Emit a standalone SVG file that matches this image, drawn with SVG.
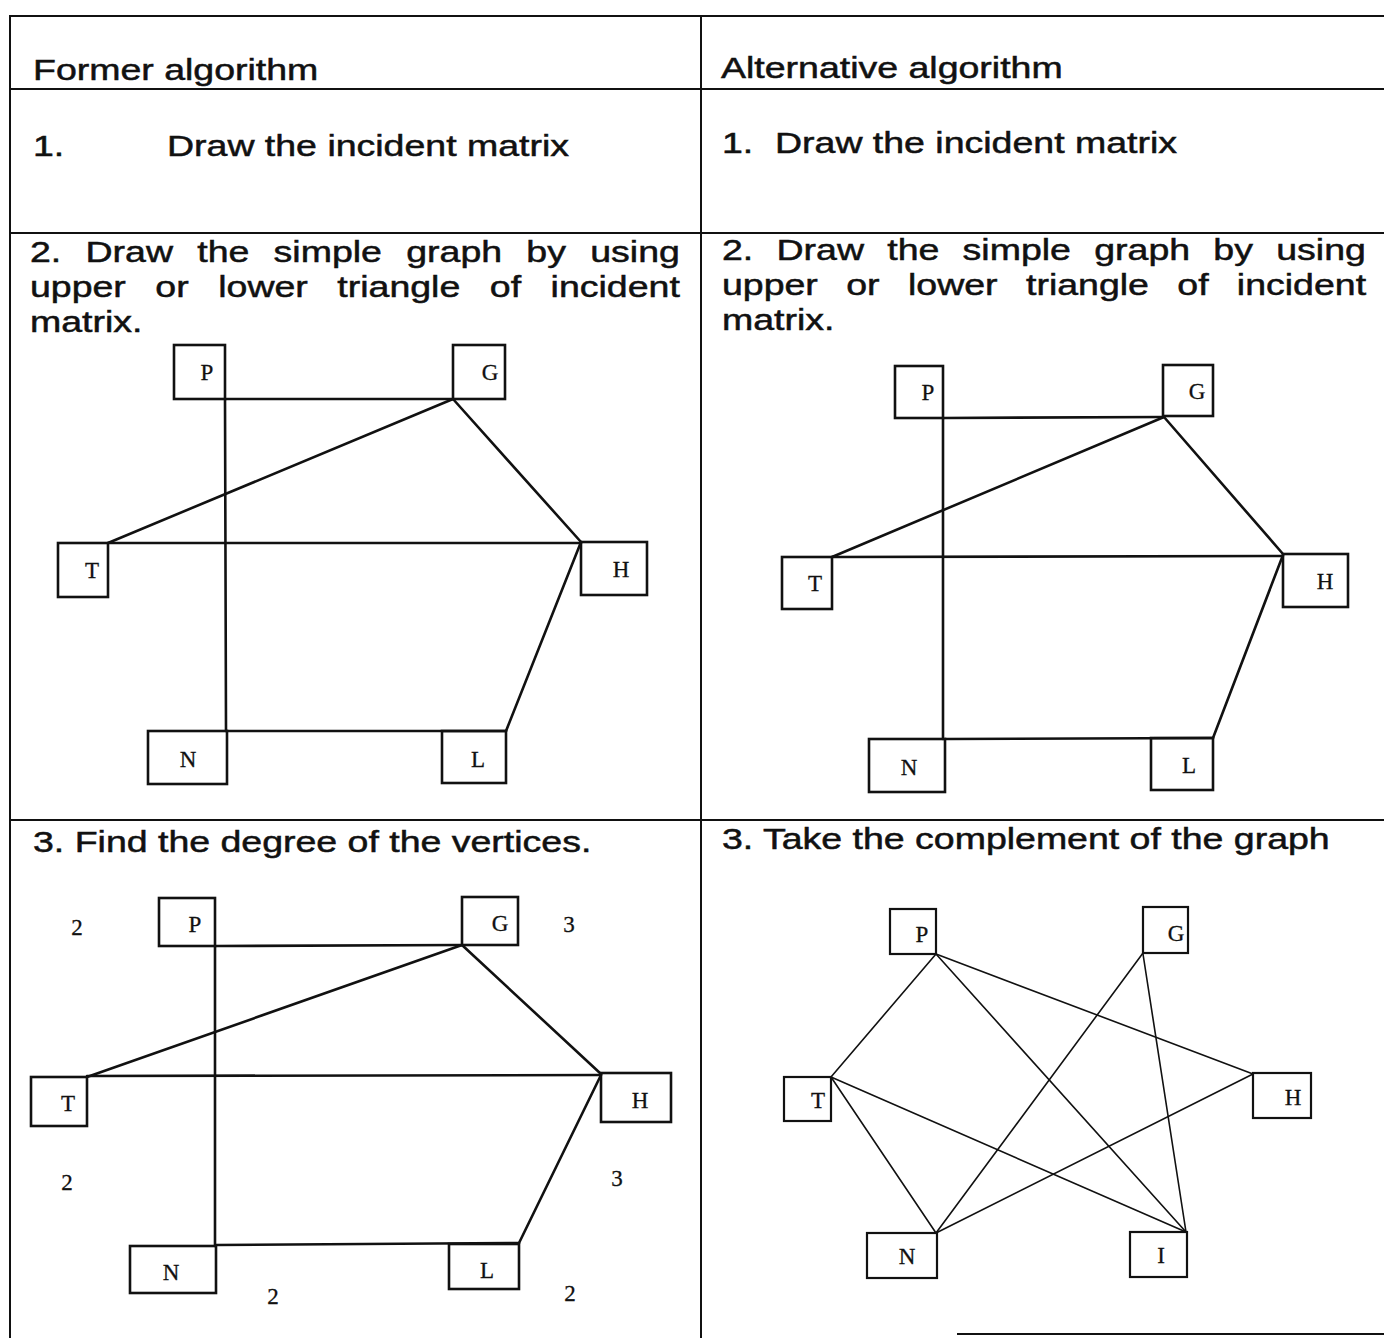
<svg xmlns="http://www.w3.org/2000/svg" width="1384" height="1338" viewBox="0 0 1384 1338">
<style>
.bg{fill:#fff}
.grid line{stroke:#111;stroke-width:2}
.box{fill:none;stroke:#111;stroke-width:2.6}
.boxs{fill:none;stroke:#111;stroke-width:2.2}
.edge line{stroke:#111;stroke-width:2.6;stroke-linecap:round}
.edgeth line{stroke:#111;stroke-width:1.6;stroke-linecap:round}
.t{font-family:"Liberation Sans",Arial,sans-serif;font-size:30px;fill:#111;stroke:#111;stroke-width:0.5}
.lbl{font-family:"Liberation Serif","Times New Roman",serif;font-size:23px;fill:#111;stroke:#111;stroke-width:0.3}
</style>
<rect class="bg" x="0" y="0" width="1384" height="1338"/>
<g id="table" class="grid">
<line x1="9" y1="16" x2="1384" y2="16"/>
<line x1="10" y1="16" x2="10" y2="1338"/>
<line x1="701" y1="16" x2="701" y2="1338"/>
<line x1="10" y1="89" x2="1384" y2="89"/>
<line x1="10" y1="233" x2="1384" y2="233"/>
<line x1="10" y1="820" x2="1384" y2="820"/>
<line x1="957" y1="1334" x2="1384" y2="1334"/>
</g>
<g id="texts">
<text class="t" transform="translate(33,80) scale(1.25,1)">Former algorithm</text>
<text class="t" transform="translate(721,78) scale(1.25,1)">Alternative algorithm</text>
<text class="t" transform="translate(33,156) scale(1.25,1)">1.</text>
<text class="t" transform="translate(167,156) scale(1.25,1)">Draw the incident matrix</text>
<text class="t" transform="translate(722,153) scale(1.25,1)"><tspan x="0">1.</tspan><tspan x="42.4">Draw the incident matrix</tspan></text>
<text class="t" transform="translate(30,262) scale(1.25,1)"><tspan x="0">2.</tspan><tspan x="44.4">Draw</tspan><tspan x="133.8">the</tspan><tspan x="194.9">simple</tspan><tspan x="301">graph</tspan><tspan x="397.1">by</tspan><tspan x="448.2">using</tspan></text>
<text class="t" transform="translate(30,297) scale(1.25,1)"><tspan x="0">upper</tspan><tspan x="100.3">or</tspan><tspan x="150.6">lower</tspan><tspan x="245.9">triangle</tspan><tspan x="367.9">of</tspan><tspan x="416.5">incident</tspan></text>
<text class="t" transform="translate(30,332) scale(1.25,1)">matrix.</text>
<text class="t" transform="translate(722,260) scale(1.25,1)"><tspan x="0">2.</tspan><tspan x="43.6">Draw</tspan><tspan x="132.2">the</tspan><tspan x="192.5">simple</tspan><tspan x="297.8">graph</tspan><tspan x="393.1">by</tspan><tspan x="443.4">using</tspan></text>
<text class="t" transform="translate(722,295) scale(1.25,1)"><tspan x="0">upper</tspan><tspan x="99.4">or</tspan><tspan x="148.8">lower</tspan><tspan x="243.2">triangle</tspan><tspan x="364.3">of</tspan><tspan x="411.9">incident</tspan></text>
<text class="t" transform="translate(722,330) scale(1.25,1)">matrix.</text>
<text class="t" transform="translate(33,852) scale(1.25,1)">3. Find the degree of the vertices.</text>
<text class="t" transform="translate(722,849) scale(1.25,1)">3. Take the complement of the graph</text>
</g>
<g id="connectors">
<g class="edge">
<line x1="225" y1="399" x2="226" y2="731"/>
<line x1="225" y1="399" x2="453" y2="399"/>
<line x1="453" y1="399" x2="108" y2="543"/>
<line x1="453" y1="399" x2="581" y2="542"/>
<line x1="108" y1="543" x2="581" y2="543"/>
<line x1="581" y1="542" x2="506" y2="731"/>
<line x1="227" y1="731" x2="506" y2="731"/>
<line x1="943" y1="418" x2="943" y2="739"/>
<line x1="943" y1="418" x2="1164" y2="417"/>
<line x1="1164" y1="417" x2="832" y2="557"/>
<line x1="1164" y1="417" x2="1283" y2="554"/>
<line x1="832" y1="557" x2="1283" y2="556"/>
<line x1="1283" y1="555" x2="1213" y2="738"/>
<line x1="945" y1="739" x2="1213" y2="738"/>
<line x1="215" y1="946" x2="215" y2="1246"/>
<line x1="215" y1="946" x2="462" y2="945"/>
<line x1="462" y1="945" x2="87" y2="1077"/>
<line x1="462" y1="945" x2="601" y2="1074"/>
<line x1="87" y1="1076" x2="601" y2="1075"/>
<line x1="601" y1="1075" x2="519" y2="1243"/>
<line x1="216" y1="1245" x2="519" y2="1243"/>
</g>
<g class="edgeth">
<line x1="936" y1="954" x2="831" y2="1077"/>
<line x1="936" y1="954" x2="1186" y2="1232"/>
<line x1="936" y1="954" x2="1253" y2="1074"/>
<line x1="1143" y1="953" x2="936" y2="1233"/>
<line x1="1143" y1="954" x2="1186" y2="1232"/>
<line x1="831" y1="1077" x2="936" y2="1233"/>
<line x1="831" y1="1077" x2="1186" y2="1232"/>
<line x1="936" y1="1233" x2="1253" y2="1074"/>
</g>
</g>
<g id="a-P"><rect class="box" x="174" y="345" width="51" height="54"/><text class="lbl" x="207" y="380" text-anchor="middle">P</text></g>
<g id="a-G"><rect class="box" x="453" y="345" width="52" height="54"/><text class="lbl" x="490" y="380" text-anchor="middle">G</text></g>
<g id="a-T"><rect class="box" x="58" y="543" width="50" height="54"/><text class="lbl" x="92" y="578" text-anchor="middle">T</text></g>
<g id="a-H"><rect class="box" x="581" y="542" width="66" height="53"/><text class="lbl" x="621" y="577" text-anchor="middle">H</text></g>
<g id="a-N"><rect class="box" x="148" y="731" width="79" height="53"/><text class="lbl" x="188" y="767" text-anchor="middle">N</text></g>
<g id="a-L"><rect class="box" x="442" y="731" width="64" height="52"/><text class="lbl" x="478" y="767" text-anchor="middle">L</text></g>
<g id="b-P"><rect class="box" x="895" y="366" width="48" height="52"/><text class="lbl" x="928" y="400" text-anchor="middle">P</text></g>
<g id="b-G"><rect class="box" x="1163" y="365" width="50" height="51"/><text class="lbl" x="1197" y="399" text-anchor="middle">G</text></g>
<g id="b-T"><rect class="box" x="782" y="557" width="50" height="52"/><text class="lbl" x="815" y="591" text-anchor="middle">T</text></g>
<g id="b-H"><rect class="box" x="1283" y="554" width="65" height="53"/><text class="lbl" x="1325" y="589" text-anchor="middle">H</text></g>
<g id="b-N"><rect class="box" x="869" y="739" width="76" height="53"/><text class="lbl" x="909" y="775" text-anchor="middle">N</text></g>
<g id="b-L"><rect class="box" x="1151" y="738" width="62" height="52"/><text class="lbl" x="1189" y="773" text-anchor="middle">L</text></g>
<g id="c-P"><rect class="box" x="159" y="898" width="56" height="48"/><text class="lbl" x="195" y="932" text-anchor="middle">P</text></g>
<g id="c-G"><rect class="box" x="462" y="897" width="56" height="48"/><text class="lbl" x="500" y="931" text-anchor="middle">G</text></g>
<g id="c-T"><rect class="box" x="31" y="1077" width="56" height="49"/><text class="lbl" x="68" y="1111" text-anchor="middle">T</text></g>
<g id="c-H"><rect class="box" x="601" y="1073" width="70" height="49"/><text class="lbl" x="640" y="1108" text-anchor="middle">H</text></g>
<g id="c-N"><rect class="box" x="130" y="1246" width="86" height="47"/><text class="lbl" x="171" y="1280" text-anchor="middle">N</text></g>
<g id="c-L"><rect class="box" x="449" y="1244" width="70" height="45"/><text class="lbl" x="487" y="1278" text-anchor="middle">L</text></g>
<g id="c-degrees">
<text class="lbl" x="77" y="935" text-anchor="middle">2</text>
<text class="lbl" x="569" y="932" text-anchor="middle">3</text>
<text class="lbl" x="67" y="1190" text-anchor="middle">2</text>
<text class="lbl" x="617" y="1186" text-anchor="middle">3</text>
<text class="lbl" x="273" y="1304" text-anchor="middle">2</text>
<text class="lbl" x="570" y="1301" text-anchor="middle">2</text>
</g>
<g id="d-P"><rect class="boxs" x="890" y="909" width="46" height="45"/><text class="lbl" x="922" y="942" text-anchor="middle">P</text></g>
<g id="d-G"><rect class="boxs" x="1143" y="907" width="45" height="46"/><text class="lbl" x="1176" y="941" text-anchor="middle">G</text></g>
<g id="d-T"><rect class="boxs" x="784" y="1077" width="47" height="44"/><text class="lbl" x="818" y="1108" text-anchor="middle">T</text></g>
<g id="d-H"><rect class="boxs" x="1253" y="1073" width="58" height="45"/><text class="lbl" x="1293" y="1105" text-anchor="middle">H</text></g>
<g id="d-N"><rect class="boxs" x="867" y="1233" width="70" height="45"/><text class="lbl" x="907" y="1264" text-anchor="middle">N</text></g>
<g id="d-I"><rect class="boxs" x="1130" y="1232" width="57" height="45"/><text class="lbl" x="1161" y="1263" text-anchor="middle">I</text></g>
</svg>
